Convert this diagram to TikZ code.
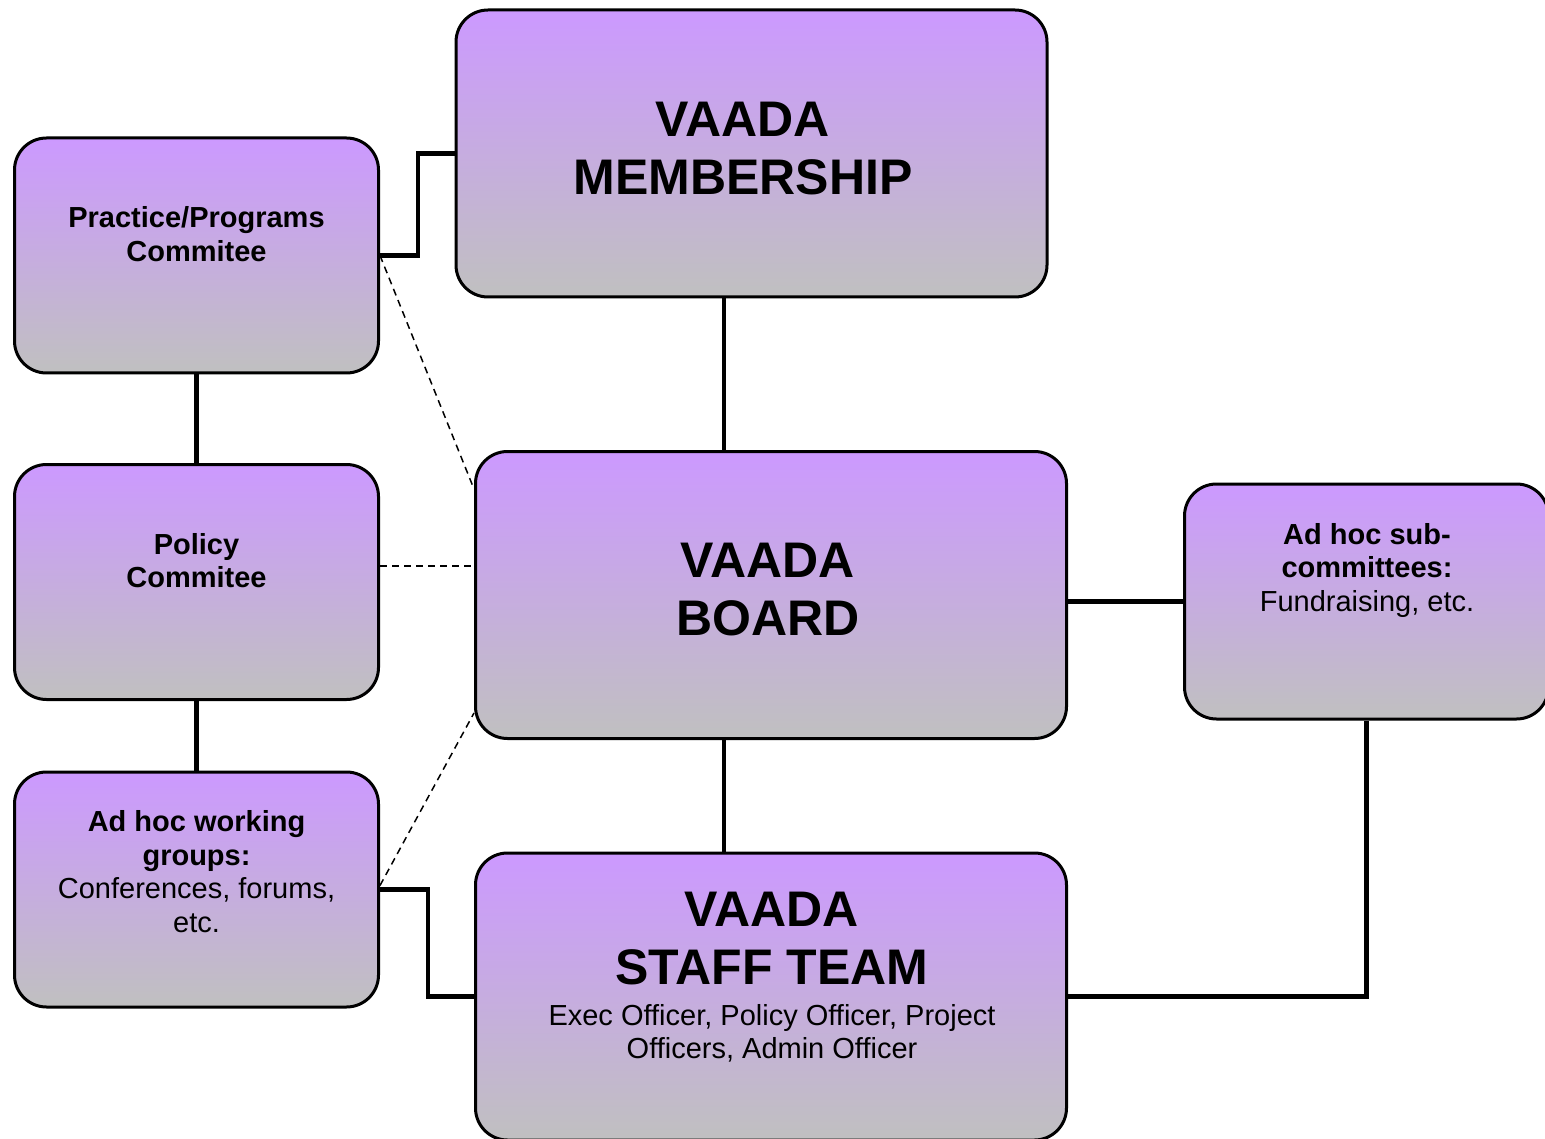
\documentclass[tikz,border=0pt]{standalone}
\usepackage{fontspec}
\setmainfont{Liberation Sans}
\usetikzlibrary{positioning}
\definecolor{lilac}{RGB}{204,153,255}
\definecolor{boxgrey}{RGB}{192,192,192}

\begin{document}
\begin{tikzpicture}[x=1pt,y=-1pt,
    unit/.style={draw,line width=3pt,rounded corners=32pt,top color=lilac,bottom color=boxgrey},
    big/.style={unit,minimum width=591pt,minimum height=287pt},
    small/.style={unit,minimum width=364pt,minimum height=235pt},
    head/.style={align=center,font=\fontsize{50}{58}\selectfont\bfseries},
    txt/.style={align=center,font=\fontsize{29}{33.5}\selectfont},
    link/.style={line width=4.5pt},
    hint/.style={line width=1.5pt,dash pattern=on 7pt off 5pt}]
   \useasboundingbox (0,0) rectangle (1545,1139);

   \node[big] (memb) at (751.5,153.5) {};
   \node[big] (board) at (771,595) {};
   \node[big] (staff) at (771,996.5) {};
   \node[small] (prac) at (196.5,255.5) {};
   \node[small] (pol) at (196.5,582) {};
   \node[small] (adhoc) at (196.5,889.5) {};
   \node[small] (sub) at (1366.5,601.5) {};

   \node[head] (memb_t) at (743,149) {VAADA\\MEMBERSHIP};
   \node[head] (board_t) at (768,590) {VAADA\\BOARD};
   \node[head] (staff_t) at (772,939) {VAADA\\STAFF TEAM};
   \node[txt] (staff_s) at (772,1033.5) {Exec Officer, Policy Officer, Project\\Officers, Admin Officer};
   \node[txt,font=\fontsize{29}{33.5}\selectfont\bfseries] (prac_t) at (196.5,234) {Practice/Programs\\Commitee};
   \node[txt,font=\fontsize{29}{33.5}\selectfont\bfseries] (pol_t) at (196.5,560.5) {Policy\\Commitee};
   \node[txt] (adhoc_t) at (196.5,871.5) {\textbf{Ad hoc working}\\\textbf{groups:}\\Conferences, forums,\\etc.};
   \node[txt] (sub_t) at (1367,570.5) {\textbf{Ad hoc sub-}\\\textbf{committees:}\\Fundraising, etc.};

   \coordinate (spine) at (724,0);
   \coordinate (pol_x) at ([yshift=16pt]pol.east);

   % solid links
   \draw[link] (prac.east) -- ++(38,0) |- (memb.west);
   \draw[link] (memb.south -| spine) -- (board.north -| spine);
   \draw[link] (board.south -| spine) -- (staff.north -| spine);
   \draw[link] (prac.south) -- (pol.north);
   \draw[link] (pol.south) -- (adhoc.north);
   \draw[link] (sub.west -| board.east) -- (sub.west);
   \draw[link] (sub.south) |- (staff.east);
   \draw[link] (adhoc.east) -- ++(48,0) |- (staff.west);

   % dashed links
   \draw[hint] (prac.east) -- ([yshift=-39pt]board.north west);
   \draw[hint] (pol_x) -- (pol_x -| board.west);
   \draw[hint] ([yshift=4pt]adhoc.east) -- ([yshift=27pt]board.south west);
\end{tikzpicture}
\end{document}
